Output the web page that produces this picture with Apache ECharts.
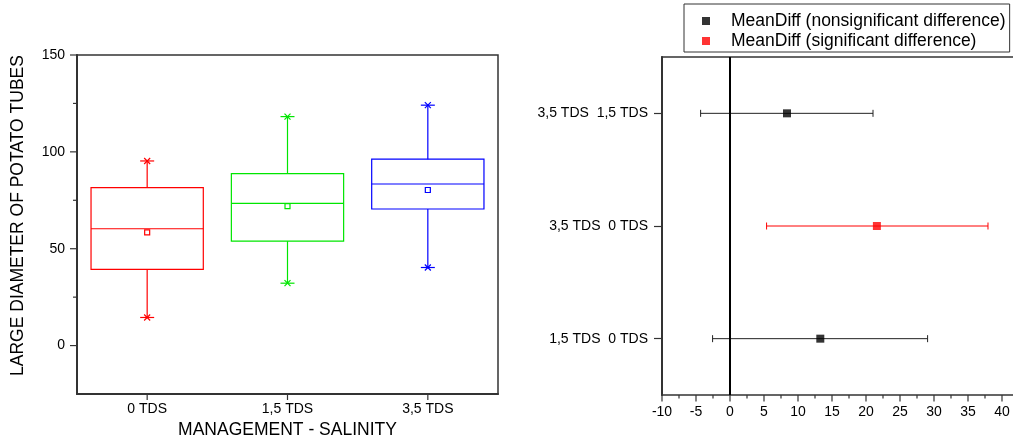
<!DOCTYPE html>
<html>
<head>
<meta charset="utf-8">
<script src="https://cdn.jsdelivr.net/npm/echarts@6/dist/echarts.min.js"></script>
<style>
html,body{margin:0;padding:0;background:#fff;}
#c{width:1013px;height:447px;}
</style>
</head>
<body>
<div id="c"></div>
<script>
// ---- Left chart: box plots ----
const boxCategories = ['0 TDS', '1,5 TDS', '3,5 TDS'];
const whiskerLow  = [14.5, 32.2, 40.3];
const q1          = [39.3, 53.9, 70.5];
const median      = [60.3, 73.4, 83.4];
const q3          = [81.5, 88.8, 96.2];
const whiskerHigh = [95.3, 118.2, 124.1];
const means       = [58.4, 72.0, 80.3];
const boxColors   = ['#ff0000', '#00e600', '#0000ff'];
const leftYTicks  = [0, 50, 100, 150];
const leftYMinor  = [25, 75, 125];

// ---- Right chart: mean differences ----
const compCategories = ['1,5 TDS  0 TDS', '3,5 TDS  0 TDS', '3,5 TDS  1,5 TDS'];
const meanDiff    = [13.28, 21.6, 8.38];
const ciLow       = [-2.56, 5.38, -4.32];
const ciHigh      = [29.06, 37.94, 21.03];
const significant = [false, true, false];
const rightXTicks = [-10, -5, 0, 5, 10, 15, 20, 25, 30, 35, 40];
const rightXMinor = [-7.5, -2.5, 2.5, 7.5, 12.5, 17.5, 22.5, 27.5, 32.5, 37.5];
const seriesNames = ['MeanDiff (nonsignificant difference)', 'MeanDiff (significant difference)'];

const FONT = '"Liberation Sans", Arial, sans-serif';
const AX = '#333';

const boxData = boxCategories.map((c, i) => [i, whiskerLow[i], q1[i], median[i], q3[i], whiskerHigh[i], means[i]]);
const ciData = compCategories.map((c, i) => [ciLow[i], ciHigh[i], i, significant[i] ? 1 : 0]);
const nonSigPts = [], sigPts = [];
compCategories.forEach((c, i) => { (significant[i] ? sigPts : nonSigPts).push([meanDiff[i], i]); });

function boxRender(params, api) {
  const i = api.value(0);
  const col = boxColors[i];
  const pLow = api.coord([i, api.value(1)]);
  const pQ1 = api.coord([i, api.value(2)]);
  const pMed = api.coord([i, api.value(3)]);
  const pQ3 = api.coord([i, api.value(4)]);
  const pHigh = api.coord([i, api.value(5)]);
  const pMean = api.coord([i, api.value(6)]);
  const w = api.size([1, 0])[0] * 0.8;
  const cx = pMed[0];
  const st = { stroke: col, fill: null, lineWidth: 1.2 };
  const cap = 7, m = 3;
  const ch = [
    { type: 'rect', shape: { x: cx - w / 2, y: pQ3[1], width: w, height: pQ1[1] - pQ3[1] }, style: st },
    { type: 'line', shape: { x1: cx - w / 2, y1: pMed[1], x2: cx + w / 2, y2: pMed[1] }, style: st },
    { type: 'line', shape: { x1: cx, y1: pQ3[1], x2: cx, y2: pHigh[1] }, style: st },
    { type: 'line', shape: { x1: cx, y1: pQ1[1], x2: cx, y2: pLow[1] }, style: st },
    { type: 'rect', shape: { x: pMean[0] - 2.5, y: pMean[1] - 2.5, width: 5, height: 5 }, style: st }
  ];
  [pHigh, pLow].forEach(p => {
    ch.push({ type: 'line', shape: { x1: cx - cap, y1: p[1], x2: cx + cap, y2: p[1] }, style: st });
    ch.push({ type: 'line', shape: { x1: cx - m, y1: p[1] - m, x2: cx + m, y2: p[1] + m }, style: st });
    ch.push({ type: 'line', shape: { x1: cx - m, y1: p[1] + m, x2: cx + m, y2: p[1] - m }, style: st });
  });
  return { type: 'group', children: ch };
}

function ciRender(params, api) {
  const y = api.value(2);
  const col = api.value(3) ? '#ff0000' : '#222';
  const a = api.coord([api.value(0), y]);
  const b = api.coord([api.value(1), y]);
  const h = 3.5;
  const st = { stroke: col, lineWidth: 1 };
  return { type: 'group', children: [
    { type: 'line', shape: { x1: a[0], y1: a[1], x2: b[0], y2: b[1] }, style: st },
    { type: 'line', shape: { x1: a[0], y1: a[1] - h, x2: a[0], y2: a[1] + h }, style: st },
    { type: 'line', shape: { x1: b[0], y1: b[1] - h, x2: b[0], y2: b[1] + h }, style: st }
  ]};
}

// outward axis tick marks, positioned through the axis scales
function yTickRender(len) {
  return function (params, api) {
    const cs = params.coordSys;
    const p = api.coord([api.value(0), api.value(1)]);
    return { type: 'line', shape: { x1: cs.x - len, y1: p[1], x2: cs.x, y2: p[1] },
      style: { stroke: AX, lineWidth: 1.2 } };
  };
}
function xTickRender(len) {
  return function (params, api) {
    const cs = params.coordSys;
    const p = api.coord([api.value(0), api.value(1)]);
    const yb = cs.y + cs.height;
    return { type: 'line', shape: { x1: p[0], y1: yb, x2: p[0], y2: yb + len },
      style: { stroke: AX, lineWidth: 1.2 } };
  };
}
function tickSeries(xi, yi, data, render) {
  return { type: 'custom', xAxisIndex: xi, yAxisIndex: yi, data: data, renderItem: render,
    encode: { x: 0, y: 1 }, silent: true, clip: false, z: 50, zlevel: 1, tooltip: { show: false } };
}

const labelBase = { fontFamily: FONT, fontSize: 14, color: '#000', backgroundColor: 'transparent',
  textBorderWidth: 0, padding: 0 };

const chart = echarts.init(document.getElementById('c'), null, { renderer: 'canvas' });
chart.setOption({
  animation: false,
  backgroundColor: '#fff',
  textStyle: { fontFamily: FONT },
  legend: {
    orient: 'vertical',
    left: 684, top: 4,
    padding: [8, 4, 2, 18],
    itemGap: 2,
    itemWidth: 8, itemHeight: 8,
    borderColor: '#333', borderWidth: 1,
    data: [
      { name: seriesNames[0], icon: 'rect' },
      { name: seriesNames[1], icon: 'rect' }
    ],
    formatter: n => '{t|' + n + '}',
    textStyle: { fontFamily: FONT, fontSize: 17.5, color: '#000', rich: { t: { fontFamily: FONT, fontSize: 17.5, color: '#000', padding: [0, 0, 0, 16] } } }
  },
  grid: [
    { left: 77, top: 55, width: 421, height: 339, show: true, borderColor: AX, borderWidth: 1.5,
      containLabel: false, outerBoundsMode: 'none' },
    { left: 662, top: 57, width: 357, height: 338, show: true, borderColor: AX, borderWidth: 1.5,
      containLabel: false, outerBoundsMode: 'none' }
  ],
  xAxis: [
    { gridIndex: 0, type: 'category', data: boxCategories, boundaryGap: true, position: 'bottom',
      name: 'MANAGEMENT - SALINITY', nameLocation: 'middle', nameGap: 26,
      nameTextStyle: { fontFamily: FONT, fontSize: 17.5, color: '#000' },
      axisLine: { onZero: false, lineStyle: { color: AX, width: 2 } },
      axisTick: { show: false },
      axisLabel: Object.assign({ margin: 8 }, labelBase),
      splitLine: { show: false } },
    { gridIndex: 1, type: 'value', min: -10, max: 42.5, position: 'bottom',
      axisLine: { onZero: false, lineStyle: { color: AX, width: 2 } },
      axisTick: { show: false },
      axisLabel: Object.assign({ customValues: rightXTicks, margin: 10 }, labelBase),
      splitLine: { show: false } }
  ],
  yAxis: [
    { gridIndex: 0, type: 'value', min: -25, max: 150, position: 'left',
      name: 'LARGE DIAMETER OF POTATO TUBES', nameLocation: 'middle', nameRotate: 90, nameGap: 50,
      nameTextStyle: { fontFamily: FONT, fontSize: 17.5, color: '#000', padding: [0, 0, 0, 18] },
      axisLine: { show: true, onZero: false, lineStyle: { color: AX, width: 2 } },
      axisTick: { show: false },
      axisLabel: Object.assign({ customValues: leftYTicks, margin: 12 }, labelBase),
      splitLine: { show: false } },
    { gridIndex: 1, type: 'category', data: compCategories, boundaryGap: true, position: 'left',
      axisLine: { show: true, onZero: false, lineStyle: { color: AX, width: 2 } },
      axisTick: { show: true, alignWithLabel: true, length: 8, lineStyle: { color: AX, width: 1.2 } },
      axisLabel: Object.assign({ margin: 14 }, labelBase),
      splitLine: { show: false } }
  ],
  series: [
    { type: 'custom', name: 'box', xAxisIndex: 0, yAxisIndex: 0, data: boxData,
      renderItem: boxRender, encode: { x: 0, y: [1, 2, 3, 4, 5, 6] }, silent: true },
    { type: 'custom', name: 'ci', xAxisIndex: 1, yAxisIndex: 1, data: ciData,
      renderItem: ciRender, encode: { x: [0, 1], y: 2 }, silent: true, z: 3 },
    { type: 'scatter', name: seriesNames[0], xAxisIndex: 1, yAxisIndex: 1, data: nonSigPts,
      symbol: 'rect', symbolSize: 8, itemStyle: { color: '#000' }, z: 4,
      markLine: { silent: true, symbol: ['none', 'none'], label: { show: false },
        lineStyle: { color: '#000', width: 2, type: 'solid' }, data: [{ xAxis: 0 }] } },
    { type: 'scatter', name: seriesNames[1], xAxisIndex: 1, yAxisIndex: 1, data: sigPts,
      symbol: 'rect', symbolSize: 8, itemStyle: { color: '#ff0000' }, z: 4 },
    // axis tick marks
    tickSeries(0, 0, leftYTicks.map(v => [0, v]), yTickRender(7)),
    tickSeries(0, 0, leftYMinor.map(v => [0, v]), yTickRender(4)),
    tickSeries(0, 0, boxCategories.map((c, i) => [i, 0]), xTickRender(6)),
    tickSeries(1, 1, rightXTicks.map(v => [v, 0]), xTickRender(6.5)),
    tickSeries(1, 1, rightXMinor.map(v => [v, 0]), xTickRender(3.5))
  ]
});
</script>
</body>
</html>
